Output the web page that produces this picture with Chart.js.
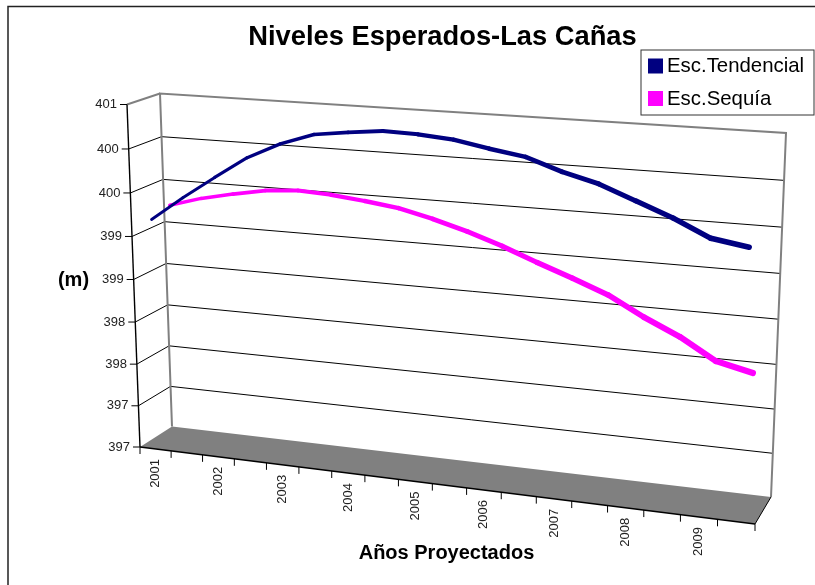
<!DOCTYPE html>
<html>
<head>
<meta charset="utf-8">
<title>Niveles Esperados-Las Cañas</title>
<script src="https://cdn.jsdelivr.net/npm/chart.js@4"></script>
<style>
  html, body { margin: 0; padding: 0; background: #fff; }
  canvas { display: block; }
</style>
</head>
<body>
<canvas id="chart" width="815" height="585"></canvas>
<script>
/* values, two per year */
var PERIODS = ['2001', '', '2002', '', '2003', '', '2004', '', '2005', '', '2006', '', '2007', '', '2008', '', '2009', ''];
var TENDENCIAL = [399.69, 399.97, 400.23, 400.48, 400.66, 400.79, 400.84, 400.88, 400.87, 400.84, 400.77, 400.71, 400.58, 400.48, 400.33, 400.18, 400.00, 399.94];
var SEQUIA = [399.76, 399.87, 399.95, 400.02, 400.05, 400.03, 399.99, 399.94, 399.85, 399.74, 399.61, 399.46, 399.32, 399.17, 398.96, 398.78, 398.55, 398.46];
var Y_TICK_LABELS = ['397', '397', '398', '398', '399', '399', '400', '400', '401'];

/* 3D box of the old Excel chart: bottom-left, bottom-right, top-right, top-left */
var BACK_WALL = [[172, 426.5], [771, 497], [786, 133], [160, 93.5]];
var FRONT_WALL = [[140, 447], [755, 524], [771, 148], [127, 104.5]];

var FONT = '"Liberation Sans", Arial, sans-serif';

function homography(q) {
  var dx1 = q[1][0] - q[2][0], dx2 = q[3][0] - q[2][0], sx = q[0][0] - q[1][0] + q[2][0] - q[3][0];
  var dy1 = q[1][1] - q[2][1], dy2 = q[3][1] - q[2][1], sy = q[0][1] - q[1][1] + q[2][1] - q[3][1];
  var den = dx1 * dy2 - dx2 * dy1;
  var g = (sx * dy2 - dx2 * sy) / den, h = (dx1 * sy - sx * dy1) / den;
  var a = q[1][0] - q[0][0] + g * q[1][0], b = q[3][0] - q[0][0] + h * q[3][0];
  var d = q[1][1] - q[0][1] + g * q[1][1], e = q[3][1] - q[0][1] + h * q[3][1];
  return function (u, v) {
    var w = g * u + h * v + 1;
    return [(a * u + b * v + q[0][0]) / w, (d * u + e * v + q[0][1]) / w];
  };
}
var toBack = homography(BACK_WALL), toFront = homography(FRONT_WALL);

/* u,v in 0..1 on the plot, depth 0 = back wall, 1 = front */
function project(u, v, depth) {
  var b = toBack(u, v), f = toFront(u, v);
  return [b[0] + (f[0] - b[0]) * depth, b[1] + (f[1] - b[1]) * depth];
}

function line(ctx, a, b, color, width) {
  ctx.strokeStyle = color; ctx.lineWidth = width;
  ctx.beginPath(); ctx.moveTo(a[0], a[1]); ctx.lineTo(b[0], b[1]); ctx.stroke();
}

function vOf(chart, value) {
  var area = chart.chartArea;
  return (area.bottom - chart.scales.y.getPixelForValue(value)) / (area.bottom - area.top);
}

var perspective = {
  id: 'perspective',
  /* move the points the scales computed onto the slanted planes */
  afterDatasetsUpdate: function (chart) {
    var area = chart.chartArea;
    chart.data.datasets.forEach(function (ds, di) {
      chart.getDatasetMeta(di).data.forEach(function (pt) {
        var u = (pt.x - area.left) / (area.right - area.left);
        var v = (area.bottom - pt.y) / (area.bottom - area.top);
        var p = project(u, v, ds.depth);
        pt.x = p[0]; pt.y = p[1];
      });
    });
  },
  beforeDatasetsDraw: function (chart) {
    var ctx = chart.ctx, n = PERIODS.length;
    ctx.save();
    ctx.lineCap = 'butt';

    /* outer frame, cut by the page on the right and bottom */
    ctx.strokeStyle = '#222'; ctx.lineWidth = 1.5;
    ctx.beginPath(); ctx.moveTo(8, 585); ctx.lineTo(8, 6.5); ctx.lineTo(815, 6.5); ctx.stroke();

    /* floor */
    ctx.fillStyle = '#808080';
    ctx.beginPath();
    ctx.moveTo(FRONT_WALL[0][0], FRONT_WALL[0][1]);
    ctx.lineTo(BACK_WALL[0][0], BACK_WALL[0][1]);
    ctx.lineTo(BACK_WALL[1][0], BACK_WALL[1][1]);
    ctx.lineTo(FRONT_WALL[1][0], FRONT_WALL[1][1]);
    ctx.closePath(); ctx.fill();

    /* grid on back wall + side wall + tick labels */
    ctx.font = '13px ' + FONT; ctx.fillStyle = '#222';
    ctx.textAlign = 'right'; ctx.textBaseline = 'middle';
    chart.scales.y.ticks.forEach(function (t, i) {
      var v = vOf(chart, t.value);
      var fr = project(0, v, 1), bk = project(0, v, 0), br = project(1, v, 0);
      var isTop = i === chart.scales.y.ticks.length - 1;
      if (i > 0 && !isTop) {
        line(ctx, bk, br, '#000', 1);
      }
      if (i > 0) line(ctx, fr, bk, isTop ? '#808080' : '#000', isTop ? 2 : 1);
      line(ctx, [fr[0] - 7, fr[1]], fr, '#000', 1);
      ctx.fillText(Y_TICK_LABELS[i], fr[0] - 10, fr[1]);
    });

    /* back wall border */
    ctx.strokeStyle = '#808080'; ctx.lineWidth = 2;
    ctx.beginPath();
    ctx.moveTo(BACK_WALL[0][0], BACK_WALL[0][1]);
    ctx.lineTo(BACK_WALL[3][0], BACK_WALL[3][1]);
    ctx.lineTo(BACK_WALL[2][0], BACK_WALL[2][1]);
    ctx.lineTo(BACK_WALL[1][0], BACK_WALL[1][1]);
    ctx.stroke();

    /* front axes */
    line(ctx, FRONT_WALL[3], FRONT_WALL[0], '#000', 1.4);
    line(ctx, FRONT_WALL[0], FRONT_WALL[1], '#000', 1.4);
    line(ctx, FRONT_WALL[1], BACK_WALL[1], '#000', 1);

    /* x ticks and year labels */
    for (var i = 0; i <= n; i++) {
      var p = project(i / n, 0, 1);
      line(ctx, p, [p[0], p[1] + 7], '#000', 1);
    }
    ctx.textAlign = 'right'; ctx.textBaseline = 'middle';
    PERIODS.forEach(function (label, i) {
      if (!label) return;
      var c = project((i + 0.5) / n, 0, 1);
      ctx.save();
      ctx.translate(c[0], c[1] + 10);
      ctx.rotate(-Math.PI / 2);
      ctx.fillText(label, 0, 0);
      ctx.restore();
    });

    /* axis titles */
    ctx.fillStyle = '#000'; ctx.font = 'bold 20px ' + FONT;
    ctx.textAlign = 'center';
    ctx.fillText('(m)', 73.5, 280);
    ctx.fillText('Años Proyectados', 446.5, 553);
    ctx.restore();
  },
  afterDraw: function (chart) {
    /* legend sits over the corner of the frame */
    var ctx = chart.ctx;
    ctx.save();
    ctx.fillStyle = '#fff'; ctx.strokeStyle = '#333'; ctx.lineWidth = 1;
    ctx.fillRect(641, 50, 173, 65); ctx.strokeRect(641, 50, 173, 65);
    ctx.font = '20.4px ' + FONT; ctx.textAlign = 'left'; ctx.textBaseline = 'middle';
    chart.data.datasets.forEach(function (ds, i) {
      var y = 58.5 + i * 32.5;
      ctx.fillStyle = ds.borderColor; ctx.fillRect(648, y, 15, 15);
      ctx.fillStyle = '#000'; ctx.fillText(ds.label, 667, y + 8);
    });
    ctx.restore();
  }
};

/* ribbon gets thicker towards the viewer on the right */
function taper(from, to) {
  return function (c) { return from + (to - from) * c.p0DataIndex / (PERIODS.length - 2); };
}

new Chart(document.getElementById('chart'), {
  type: 'line',
  data: {
    labels: PERIODS,
    datasets: [
      { label: 'Esc.Tendencial', data: TENDENCIAL, borderColor: '#000080', depth: 0.87, clip: false,
        pointRadius: 0, tension: 0, borderCapStyle: 'round', segment: { borderWidth: taper(2.8, 5.6) } },
      { label: 'Esc.Sequía', data: SEQUIA, borderColor: '#ff00ff', depth: 0.3, clip: false,
        pointRadius: 0, tension: 0, borderCapStyle: 'round', segment: { borderWidth: taper(3.4, 6.2) } }
    ]
  },
  options: {
    responsive: false,
    animation: false,
    layout: { padding: { left: 70 } },
    scales: {
      x: { display: false, offset: true, ticks: { autoSkip: false } },
      y: { display: false, min: 397, max: 401, ticks: { stepSize: 0.5 } }
    },
    plugins: {
      legend: { display: false },
      tooltip: { enabled: false },
      title: {
        display: true,
        text: 'Niveles Esperados-Las Cañas',
        color: '#000',
        font: { family: FONT, size: 27.3, weight: 'bold' },
        padding: { top: 21, bottom: 4 }
      }
    }
  },
  plugins: [perspective]
});
</script>
</body>
</html>
